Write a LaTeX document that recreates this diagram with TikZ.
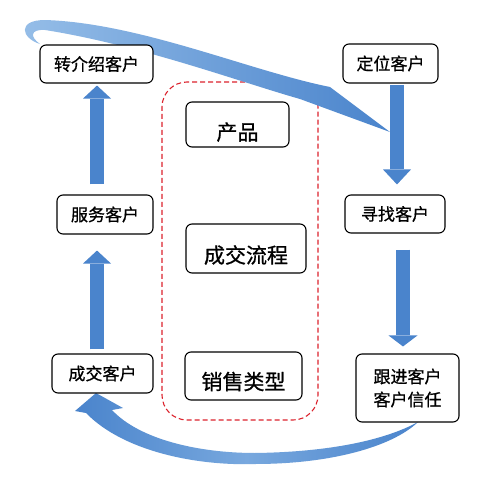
\documentclass[tikz,border=0pt]{standalone}
\usepackage{fontspec}
\newfontfamily\cjk[FakeBold=0.8]{Noto Sans CJK SC}
\usetikzlibrary{arrows.meta,calc}
\definecolor{arrowblue}{RGB}{74,132,204}
\definecolor{lightblue}{RGB}{150,190,232}
\definecolor{midblue}{RGB}{120,168,222}
\definecolor{dashred}{RGB}{220,35,45}
\tikzset{
  box/.style={draw=black, line width=1.1pt, rounded corners=6pt, fill=white,
    font=\cjk\fontsize{17}{23}\selectfont, inner sep=0pt, align=center},
  bigbox/.style={box, font=\cjk\fontsize{21}{25}\selectfont, text depth=0pt},
  blockarrow/.style={draw=arrowblue, line width=14pt},
  groupbox/.style={draw=dashred, line width=1.1pt, dash pattern=on 5pt off 3pt,
    rounded corners=25pt, inner sep=0pt},
  ribbon/.style={left color=lightblue, right color=arrowblue},
  bottomarc/.style={left color=arrowblue, right color=arrowblue, middle color=midblue}
}
\begin{document}
\begin{tikzpicture}[x=1pt,y=-1pt]
\useasboundingbox (0,0) rectangle (499,482);
\fill[white] (0,0) rectangle (499,482);

% dashed group
\node[groupbox, minimum width=156pt, minimum height=338pt] (grp) at (240,251) {};

% top ribbon
\shade[ribbon] (40,44) .. controls (21,38) and (17,20) .. (45,20)
  .. controls (140,23) and (250,71) .. (330,87) -- (390,132) -- (300,99)
  .. controls (240,82) and (140,45) .. (45,30)
  .. controls (30,29) and (30,37) .. (40,44) -- cycle;

% bottom curved arrow
\shade[bottomarc] (96,393) -- (123,408) -- (112,410)
  .. controls (140,440) and (200,453) .. (255,453)
  .. controls (330,452) and (385,440) .. (418,422)
  .. controls (392,447) and (330,464) .. (255,464)
  .. controls (198,466) and (124,452) .. (86,413) -- (75,411) -- cycle;

% boxes
\node[box, minimum width=113pt, minimum height=38pt] (zj) at (96.5,64) {转介绍客户};
\node[box, minimum width=95pt, minimum height=39pt] (dw) at (390.5,63.5) {定位客户};
\node[box, minimum width=96pt, minimum height=39pt] (fw) at (105,214.5) {服务客户};
\node[box, minimum width=100pt, minimum height=38pt] (xz) at (395,214) {寻找客户};
\node[box, minimum width=101pt, minimum height=39pt] (cj) at (102.5,373.5) {成交客户};
\node[box, minimum width=103pt, minimum height=68pt] (gj) at (407.5,388) {跟进客户\\客户信任};
\node[bigbox, text height=31pt, minimum width=103pt, minimum height=45pt] (cp) at (237.5,124.5) {产品};
\node[bigbox, text height=29pt, minimum width=120pt, minimum height=49pt] (lc) at (246,248.5) {成交流程};
\node[bigbox, text height=27pt, minimum width=117pt, minimum height=48pt] (lx) at (243.5,376) {销售类型};

% block arrows
\draw[blockarrow, -{Triangle[width=28pt,length=13pt,line width=0pt]}]
  ($(fw.north)+(-8,-10)$) -- ($(zj.south)+(0.5,2)$);
\draw[blockarrow, -{Triangle[width=28pt,length=13pt,line width=0pt]}]
  ($(cj.north)+(-5.5,-4)$) -- ($(fw.south)+(-8,16)$);
\draw[blockarrow, -{Triangle[width=28pt,length=15pt,line width=0pt]}]
  ($(dw.south)+(6.5,1.5)$) -- ($(xz.north)+(2,-10)$);
\draw[blockarrow, -{Triangle[width=29pt,length=11pt,line width=0pt]}]
  ($(xz.south)+(8,16)$) -- ($(gj.north)+(-4.5,-7)$);
\end{tikzpicture}
\end{document}
